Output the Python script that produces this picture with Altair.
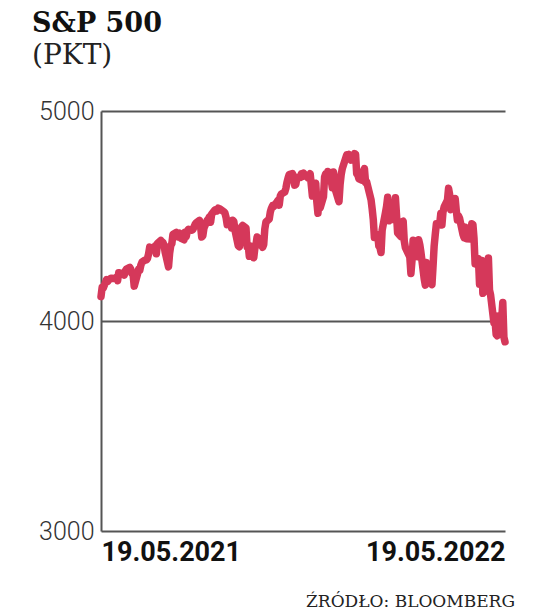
import altair as alt
import pandas as pd

START = "2021-05-19"
END = "2022-05-19"
HOLIDAYS = ["2021-05-31", "2021-07-05", "2021-09-06", "2021-11-25", "2021-12-24",
            "2022-01-17", "2022-02-21", "2022-04-15"]

may21 = [4116, 4159, 4156, 4197, 4188, 4195, 4200, 4204]
jun21 = [4202, 4208, 4192, 4230, 4226, 4227, 4219, 4239, 4247, 4255, 4246, 4224, 4222, 4166,
         4224, 4246, 4241, 4266, 4280, 4291, 4291, 4298]
jul21 = [4320, 4352, 4343, 4358, 4320, 4369, 4384, 4369, 4374, 4360, 4327, 4258, 4323, 4359,
         4368, 4412, 4422, 4401, 4400, 4419, 4395]
aug21 = [4387, 4423, 4402, 4429, 4437, 4432, 4436, 4448, 4460, 4468, 4479, 4448, 4400, 4406,
         4442, 4480, 4486, 4496, 4470, 4509, 4529, 4523]
sep21 = [4524, 4537, 4535, 4520, 4514, 4493, 4459, 4468, 4443, 4480, 4474, 4433, 4358, 4354,
         4396, 4449, 4455, 4443, 4353, 4360, 4308]
oct21 = [4357, 4301, 4346, 4363, 4400, 4391, 4361, 4351, 4364, 4438, 4471, 4486, 4520, 4537,
         4549, 4545, 4567, 4575, 4552, 4596, 4605]
nov21 = [4614, 4631, 4660, 4680, 4697, 4702, 4686, 4647, 4650, 4683, 4683, 4701, 4688, 4704,
         4698, 4682, 4691, 4701, 4595, 4656, 4567]
dec21 = [4513, 4577, 4538, 4592, 4686, 4701, 4668, 4712, 4669, 4635, 4710, 4669, 4621, 4568,
         4649, 4697, 4726, 4791, 4786, 4793, 4778, 4766]
jan22 = [4797, 4794, 4701, 4696, 4677, 4670, 4713, 4726, 4660, 4663, 4577, 4533, 4483, 4398,
         4410, 4357, 4350, 4326, 4432, 4516]
feb22 = [4546, 4589, 4477, 4501, 4484, 4522, 4587, 4504, 4419, 4402, 4472, 4475, 4380, 4349,
         4305, 4226, 4289, 4385, 4374]
mar22 = [4306, 4387, 4364, 4329, 4201, 4171, 4278, 4260, 4204, 4173, 4262, 4358, 4412, 4463,
         4461, 4512, 4457, 4520, 4543, 4575, 4632, 4602, 4530]
apr22 = [4546, 4583, 4525, 4481, 4501, 4488, 4413, 4397, 4447, 4392, 4391, 4463, 4460, 4394,
         4272, 4297, 4175, 4184, 4288, 4132]
may22 = [4155, 4175, 4300, 4147, 4123, 3991, 4001, 3936, 3930, 4024, 4008, 4088, 3923, 3901]

values = (may21 + jun21 + jul21 + aug21 + sep21 + oct21 + nov21 + dec21 +
          jan22 + feb22 + mar22 + apr22 + may22)

days = pd.bdate_range(START, END)
days = days[~days.isin(pd.to_datetime(HOLIDAYS))]
df = pd.DataFrame({"date": days[:len(values)], "value": values})

Y_TICKS = [3000, 4000, 5000]
X_TICKS = [START, END]
TITLE = "S&P 500"
SUBTITLE = "(PKT)"
SOURCE = "ŹRÓDŁO: BLOOMBERG"

LINE_COLOR = "#d5385a"
GRID = "#555555"
SANS = "Roboto, sans-serif"
SERIF = "DejaVu Serif, serif"

line = alt.Chart(df).mark_line(
    color=LINE_COLOR, strokeWidth=7.5, strokeJoin="round", strokeCap="round"
).encode(
    x=alt.X("date:T",
            scale=alt.Scale(domain=X_TICKS),
            axis=alt.Axis(values=[pd.Timestamp(d).isoformat() for d in X_TICKS],
                          format="%d.%m.%Y", title=None, domain=False, ticks=False,
                          grid=False, labelFlush=True, labelFont=SANS,
                          labelFontSize=27, labelFontWeight="bold", labelColor="#111",
                          labelPadding=8)),
    y=alt.Y("value:Q",
            scale=alt.Scale(domain=[3000, 5000], nice=False, zero=False),
            axis=alt.Axis(values=Y_TICKS, title=None, grid=True, gridColor=GRID,
                          gridWidth=2, gridOpacity=1, domain=True, domainColor=GRID,
                          domainWidth=2, ticks=False, labelFont=SANS, labelFontWeight=300,
                          labelFontSize=25, labelColor="#333", labelPadding=7,
                          format="d")),
)

source = alt.Chart(pd.DataFrame({"t": [SOURCE]})).mark_text(
    align="right", baseline="alphabetic", font=SERIF, fontSize=17, color="#222"
).encode(x=alt.value(414), y=alt.value(496), text="t:N")

chart = alt.layer(line, source).properties(
    width=404, height=420,
    padding={"left": 93, "top": 103, "right": 20, "bottom": 80},
    autosize=alt.AutoSizeParams(type="none"),
    title=alt.TitleParams(
        text=TITLE, subtitle=SUBTITLE, anchor="start", frame="group", dx=-69,
        font=SERIF, fontSize=27, fontWeight="bold", color="#111",
        subtitleFont=SERIF, subtitleFontSize=28, subtitleColor="#222",
        subtitlePadding=4, offset=28),
).configure_view(stroke=None)

chart.save("out.html", embed_options={"renderer": "svg", "actions": False})
